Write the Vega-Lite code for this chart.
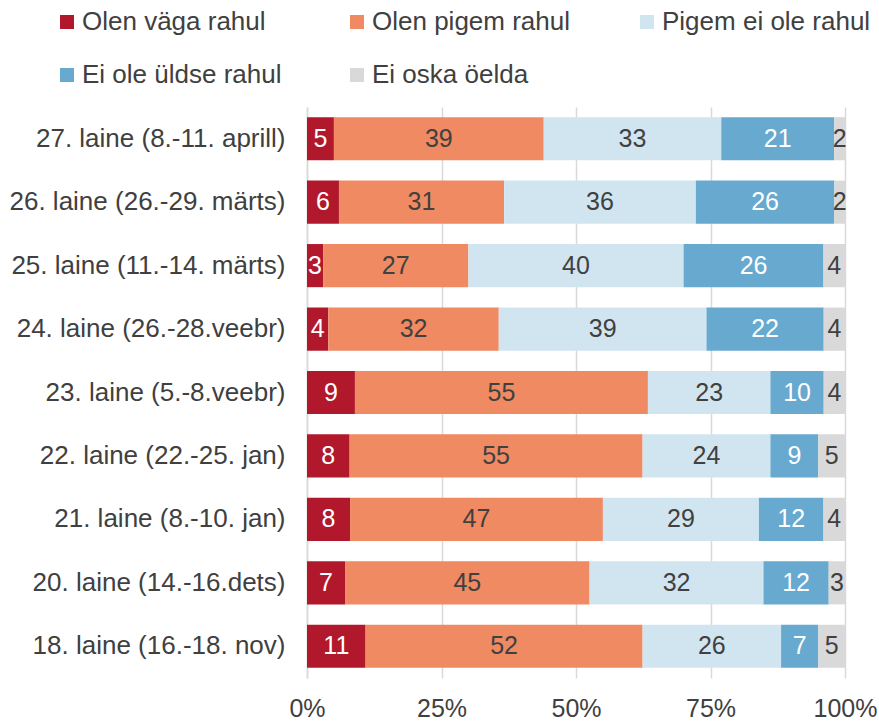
{
  "$schema": "https://vega.github.io/schema/vega-lite/v6.json",
  "width": 538,
  "height": 571,
  "autosize": {"type": "none"},
  "padding": {"left": 307, "top": 107, "right": 34, "bottom": 44},
  "background": "white",
  "config": {
    "view": {"stroke": null},
    "font": "Liberation Sans",
    "text": {"font": "Liberation Sans"}
  },
  "data": {
    "values": [
      {"w": "27. laine (8.-11. aprill)", "c": "Olen väga rahul", "v": 5},
      {"w": "27. laine (8.-11. aprill)", "c": "Olen pigem rahul", "v": 39},
      {"w": "27. laine (8.-11. aprill)", "c": "Pigem ei ole rahul", "v": 33},
      {"w": "27. laine (8.-11. aprill)", "c": "Ei ole üldse rahul", "v": 21},
      {"w": "27. laine (8.-11. aprill)", "c": "Ei oska öelda", "v": 2},
      {"w": "26. laine (26.-29. märts)", "c": "Olen väga rahul", "v": 6},
      {"w": "26. laine (26.-29. märts)", "c": "Olen pigem rahul", "v": 31},
      {"w": "26. laine (26.-29. märts)", "c": "Pigem ei ole rahul", "v": 36},
      {"w": "26. laine (26.-29. märts)", "c": "Ei ole üldse rahul", "v": 26},
      {"w": "26. laine (26.-29. märts)", "c": "Ei oska öelda", "v": 2},
      {"w": "25. laine (11.-14. märts)", "c": "Olen väga rahul", "v": 3},
      {"w": "25. laine (11.-14. märts)", "c": "Olen pigem rahul", "v": 27},
      {"w": "25. laine (11.-14. märts)", "c": "Pigem ei ole rahul", "v": 40},
      {"w": "25. laine (11.-14. märts)", "c": "Ei ole üldse rahul", "v": 26},
      {"w": "25. laine (11.-14. märts)", "c": "Ei oska öelda", "v": 4},
      {"w": "24. laine (26.-28.veebr)", "c": "Olen väga rahul", "v": 4},
      {"w": "24. laine (26.-28.veebr)", "c": "Olen pigem rahul", "v": 32},
      {"w": "24. laine (26.-28.veebr)", "c": "Pigem ei ole rahul", "v": 39},
      {"w": "24. laine (26.-28.veebr)", "c": "Ei ole üldse rahul", "v": 22},
      {"w": "24. laine (26.-28.veebr)", "c": "Ei oska öelda", "v": 4},
      {"w": "23. laine (5.-8.veebr)", "c": "Olen väga rahul", "v": 9},
      {"w": "23. laine (5.-8.veebr)", "c": "Olen pigem rahul", "v": 55},
      {"w": "23. laine (5.-8.veebr)", "c": "Pigem ei ole rahul", "v": 23},
      {"w": "23. laine (5.-8.veebr)", "c": "Ei ole üldse rahul", "v": 10},
      {"w": "23. laine (5.-8.veebr)", "c": "Ei oska öelda", "v": 4},
      {"w": "22. laine (22.-25. jan)", "c": "Olen väga rahul", "v": 8},
      {"w": "22. laine (22.-25. jan)", "c": "Olen pigem rahul", "v": 55},
      {"w": "22. laine (22.-25. jan)", "c": "Pigem ei ole rahul", "v": 24},
      {"w": "22. laine (22.-25. jan)", "c": "Ei ole üldse rahul", "v": 9},
      {"w": "22. laine (22.-25. jan)", "c": "Ei oska öelda", "v": 5},
      {"w": "21. laine (8.-10. jan)", "c": "Olen väga rahul", "v": 8},
      {"w": "21. laine (8.-10. jan)", "c": "Olen pigem rahul", "v": 47},
      {"w": "21. laine (8.-10. jan)", "c": "Pigem ei ole rahul", "v": 29},
      {"w": "21. laine (8.-10. jan)", "c": "Ei ole üldse rahul", "v": 12},
      {"w": "21. laine (8.-10. jan)", "c": "Ei oska öelda", "v": 4},
      {"w": "20. laine (14.-16.dets)", "c": "Olen väga rahul", "v": 7},
      {"w": "20. laine (14.-16.dets)", "c": "Olen pigem rahul", "v": 45},
      {"w": "20. laine (14.-16.dets)", "c": "Pigem ei ole rahul", "v": 32},
      {"w": "20. laine (14.-16.dets)", "c": "Ei ole üldse rahul", "v": 12},
      {"w": "20. laine (14.-16.dets)", "c": "Ei oska öelda", "v": 3},
      {"w": "18. laine (16.-18. nov)", "c": "Olen väga rahul", "v": 11},
      {"w": "18. laine (16.-18. nov)", "c": "Olen pigem rahul", "v": 52},
      {"w": "18. laine (16.-18. nov)", "c": "Pigem ei ole rahul", "v": 26},
      {"w": "18. laine (16.-18. nov)", "c": "Ei ole üldse rahul", "v": 7},
      {"w": "18. laine (16.-18. nov)", "c": "Ei oska öelda", "v": 5}
    ]
  },
  "transform": [
    {"calculate": "indexof(['Olen väga rahul','Olen pigem rahul','Pigem ei ole rahul','Ei ole üldse rahul','Ei oska öelda'], datum.c)", "as": "k"},
    {"stack": "v", "groupby": ["w"], "sort": [{"field": "k", "order": "ascending"}], "offset": "normalize", "as": ["v0", "v1"]},
    {"calculate": "(datum.v0 + datum.v1) / 2", "as": "vm"}
  ],
  "encoding": {
    "y": {
      "field": "w",
      "type": "nominal",
      "sort": null,
      "title": null,
      "scale": {"paddingInner": 0.32, "paddingOuter": 0.16},
      "axis": {
        "domain": true,
        "domainColor": "#d9d9d9",
        "domainWidth": 1.5,
        "ticks": false,
        "labelFontSize": 26,
        "labelColor": "#404040",
        "labelPadding": 22,
        "labelLimit": 400
      }
    }
  },
  "layer": [
    {
      "mark": {"type": "bar"},
      "encoding": {
        "x": {
          "field": "v0",
          "type": "quantitative",
          "scale": {"domain": [0, 1], "nice": false},
          "title": null,
          "axis": {
            "values": [0, 0.25, 0.5, 0.75, 1],
            "format": ".0%",
            "domain": false,
            "ticks": false,
            "grid": true,
            "gridColor": "#d9d9d9",
            "gridWidth": 1.5,
            "labelFontSize": 25,
            "labelColor": "#404040",
            "labelPadding": 18,
            "labelFlush": false
          }
        },
        "x2": {"field": "v1"},
        "color": {
          "field": "c",
          "type": "nominal",
          "scale": {
            "domain": ["Olen väga rahul", "Olen pigem rahul", "Pigem ei ole rahul", "Ei ole üldse rahul", "Ei oska öelda"],
            "range": ["#b2182b", "#ef8a62", "#d1e5f0", "#67a9cf", "#d9d9d9"]
          },
          "legend": {
            "title": null,
            "orient": "none",
            "legendX": -253,
            "legendY": -98,
            "direction": "horizontal",
            "columns": 3,
            "gridAlign": "all",
            "columnPadding": 53,
            "rowPadding": 27,
            "symbolType": "square",
            "symbolSize": 196,
            "symbolStrokeWidth": 0,
            "labelFontSize": 26,
            "labelColor": "#404040",
            "labelOffset": 2,
            "labelLimit": 400,
            "padding": 0
          }
        }
      }
    },
    {
      "mark": {"type": "text", "fontSize": 25, "font": "Liberation Sans"},
      "encoding": {
        "x": {"field": "vm", "type": "quantitative"},
        "text": {"field": "v", "type": "quantitative"},
        "color": {
          "condition": {"test": "datum.c === 'Olen väga rahul' || datum.c === 'Ei ole üldse rahul'", "value": "white"},
          "value": "#404040"
        }
      }
    }
  ]
}
